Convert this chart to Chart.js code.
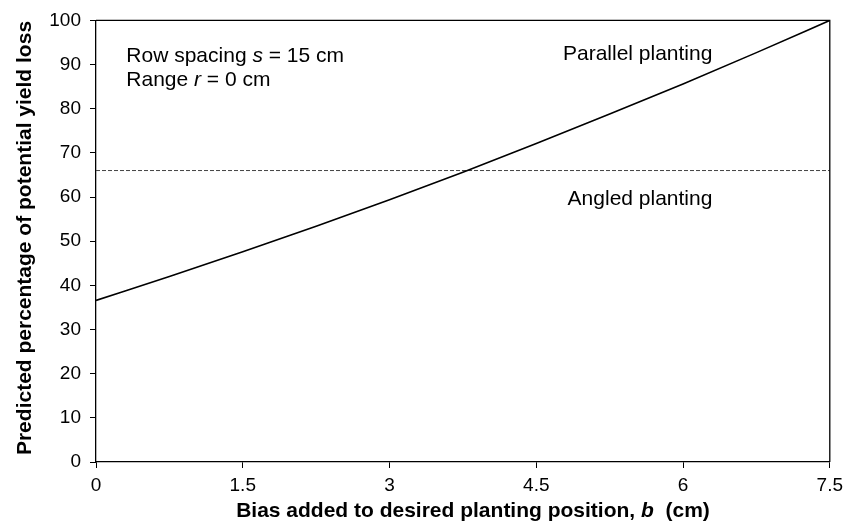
<!DOCTYPE html>
<html>
<head>
<meta charset="utf-8">
<script src="https://cdn.jsdelivr.net/npm/chart.js@4.4.1/dist/chart.umd.min.js"></script>
<style>
  html, body { margin: 0; padding: 0; background: #fff; }
  #wrap { width: 849px; height: 524px; }
</style>
</head>
<body>
<div id="wrap"><canvas id="chart" width="849" height="524"></canvas></div>
<script>
// values
const biasValues = [0, 0.75, 1.5, 2.25, 3, 3.75, 4.5, 5.25, 6, 6.75, 7.5];
const parallelLoss = [36.6, 42.0, 47.6, 53.4, 59.4, 65.6, 72.1, 78.8, 85.6, 92.7, 100];
const angledBias = [0, 7.5];
const angledLoss = [66, 66];
const xTicks = [0, 1.5, 3, 4.5, 6, 7.5];

const FONT = '"Liberation Sans", Arial, sans-serif';

// mixed plain / italic text pieces
function drawPieces(ctx, pieces, x, y, align, size, weight) {
    let total = 0;
    pieces.forEach(p => {
        ctx.font = `${p.italic ? 'italic ' : ''}${weight} ${size}px ${FONT}`;
        p.w = ctx.measureText(p.t).width;
        total += p.w;
    });
    let cx = align === 'center' ? x - total / 2 : align === 'right' ? x - total : x;
    pieces.forEach(p => {
        ctx.font = `${p.italic ? 'italic ' : ''}${weight} ${size}px ${FONT}`;
        ctx.fillText(p.t, cx, y);
        cx += p.w;
    });
}

const decorations = {
    id: 'decorations',
    afterDraw(chart) {
        const { ctx, chartArea: a, scales } = chart;
        const xs = scales.x, ys = scales.y;
        ctx.save();
        // top/right frame
        ctx.strokeStyle = '#000';
        ctx.lineWidth = 1.3;
        ctx.beginPath();
        ctx.moveTo(a.left, a.top);
        ctx.lineTo(a.right, a.top);
        ctx.lineTo(a.right, a.bottom);
        ctx.stroke();

        ctx.fillStyle = '#000';
        ctx.textBaseline = 'alphabetic';
        drawPieces(ctx, [{ t: 'Row spacing ' }, { t: 's', italic: true }, { t: ' = 15 cm' }],
            xs.getPixelForValue(0.31), ys.getPixelForValue(90.6), 'left', 21, 'normal');
        drawPieces(ctx, [{ t: 'Range ' }, { t: 'r', italic: true }, { t: ' = 0 cm' }],
            xs.getPixelForValue(0.31), ys.getPixelForValue(85.2), 'left', 21, 'normal');
        drawPieces(ctx, [{ t: 'Parallel planting' }],
            xs.getPixelForValue(6.30), ys.getPixelForValue(91.0), 'right', 21, 'normal');
        drawPieces(ctx, [{ t: 'Angled planting' }],
            xs.getPixelForValue(6.30), ys.getPixelForValue(58.3), 'right', 21, 'normal');

        // axis titles
        drawPieces(ctx, [{ t: 'Bias added to desired planting position, ' }, { t: 'b', italic: true }, { t: '  (cm)' }],
            473, 517, 'center', 21, 'bold');
        ctx.translate(31, 238);
        ctx.rotate(-Math.PI / 2);
        drawPieces(ctx, [{ t: 'Predicted percentage of potential yield loss' }], 0, 0, 'center', 21, 'bold');
        ctx.restore();
    }
};

new Chart(document.getElementById('chart'), {
    type: 'line',
    data: {
        datasets: [{
            label: 'Parallel planting',
            data: biasValues.map((b, i) => ({ x: b, y: parallelLoss[i] })),
            borderColor: '#000',
            borderWidth: 1.6,
            pointRadius: 0,
            tension: 0.4,
            cubicInterpolationMode: 'monotone'
        }, {
            label: 'Angled planting',
            data: angledBias.map((b, i) => ({ x: b, y: angledLoss[i] })),
            borderColor: '#444',
            borderWidth: 1,
            borderDash: [4, 2],
            pointRadius: 0
        }]
    },
    options: {
        responsive: false,
        animation: false,
        layout: { padding: { top: 17, right: 17, left: 0, bottom: 0 } },
        plugins: { legend: { display: false }, tooltip: { enabled: false } },
        scales: {
            x: {
                type: 'linear',
                min: 0, max: 7.5,
                afterBuildTicks: s => { s.ticks = xTicks.map(v => ({ value: v })); },
                afterFit: s => { s.height = 62; },
                grid: { drawOnChartArea: false, drawTicks: true, tickLength: 6, color: '#000' },
                border: { display: true, color: '#000', width: 1.3 },
                ticks: { color: '#000', padding: 6, maxRotation: 0, font: { family: FONT, size: 19 } }
            },
            y: {
                min: 0, max: 100,
                afterFit: s => { s.width = 96; },
                grid: { drawOnChartArea: false, drawTicks: true, tickLength: 6, color: '#000' },
                border: { display: true, color: '#000', width: 1.3 },
                ticks: { stepSize: 10, color: '#000', padding: 9, font: { family: FONT, size: 19 } }
            }
        }
    },
    plugins: [decorations]
});
</script>
</body>
</html>
